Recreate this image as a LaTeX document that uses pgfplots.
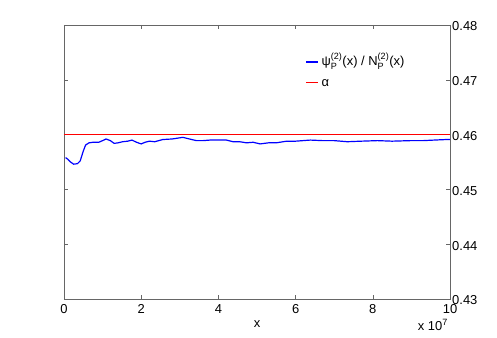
\documentclass[border=0pt]{standalone}
\usepackage{amsmath}
\usepackage{fontspec}
\setmainfont{Liberation Sans}
\usepackage{pgfplots}
\pgfplotsset{compat=1.18}
\definecolor{mblue}{RGB}{0,0,255}
\definecolor{mred}{RGB}{255,0,0}
\definecolor{axgray}{gray}{0.4}
\newcommand{\ps}{$^{\text{(2)}}_{\text{P}}$}
\newcommand{\mfont}{\fontsize{13}{15}\selectfont}

\begin{document}
\begin{tikzpicture}
\begin{axis}[
  at={(0,0)}, anchor=south west,
  scale only axis, width=386bp, height=274bp,
  xmin=0, xmax=10, ymin=0.43, ymax=0.48,
  xtick={0,2,4,6,8,10},
  ytick={0.43,0.44,0.45,0.46,0.47,0.48},
  yticklabel pos=right,
  yticklabel style={/pgf/number format/fixed, /pgf/number format/precision=2,
                    /pgf/number format/fixed zerofill,
                    anchor=west, inner sep=0pt, xshift=2bp, yshift=-1.5bp},
  xticklabel style={anchor=north, inner sep=0pt, yshift=-5bp},
  tick align=inside,
  major tick length=4bp,
  axis line style={draw=axgray, line width=.5pt},
  tick style={draw=axgray, line width=.5pt},
  every tick label/.append style={font=\mfont},
  /pgf/number format/assume math mode=true,
  xlabel={x},
  xlabel style={font=\mfont, at={(axis description cs:0.5,0)},
                anchor=base, inner sep=0pt, yshift=-28bp},
]
\addplot[mblue, line width=1.2pt] coordinates {
(0.04,0.4558) (0.10,0.4555) (0.17,0.4550) (0.25,0.4546) (0.35,0.4547)
(0.42,0.4552) (0.50,0.4570) (0.56,0.4581) (0.65,0.4585) (0.75,0.4586)
(0.90,0.4586) (1.00,0.4589) (1.09,0.4592) (1.20,0.4589) (1.30,0.4584)
(1.40,0.4585) (1.52,0.4587) (1.65,0.4588) (1.76,0.4590) (1.88,0.4586)
(2.00,0.4583) (2.10,0.4586) (2.21,0.4588) (2.35,0.4587) (2.56,0.4591)
(2.80,0.4592) (3.08,0.4595) (3.25,0.4592) (3.43,0.4589) (3.60,0.4589)
(3.78,0.4590) (4.00,0.4590) (4.21,0.4590) (4.38,0.4587) (4.55,0.4587)
(4.73,0.4585) (4.90,0.4586) (5.08,0.4583) (5.30,0.4585) (5.50,0.4585)
(5.77,0.4588) (6.00,0.4588) (6.38,0.4590) (6.70,0.4589) (7.00,0.4589)
(7.34,0.4587) (7.70,0.4588) (8.12,0.4589) (8.50,0.4588) (8.98,0.4589)
(9.30,0.4589) (9.59,0.4590) (9.90,0.4591) (10.00,0.4591)
};
\addplot[mred, line width=0.9pt] coordinates {(0,0.46) (10,0.46)};
% legend, drawn by hand
\draw[mblue, line width=1.2pt]
  (axis description cs:0.627,0.865) -- (axis description cs:0.658,0.865);
\node[anchor=west, font=\mfont, inner sep=0pt]
  at (axis description cs:0.667,0.868) {ψ\ps(x) / N\ps(x)};
\draw[mred, line width=0.9pt]
  (axis description cs:0.627,0.791) -- (axis description cs:0.658,0.791);
\node[anchor=west, font=\mfont, inner sep=0pt]
  at (axis description cs:0.667,0.789) {α};
\end{axis}
\node[anchor=base east, font=\mfont, inner sep=0pt] at (384bp,-31bp)
  {x 10\textsuperscript{7}};
\useasboundingbox (-64bp,-39bp) rectangle (433bp,299bp);
\end{tikzpicture}
\end{document}
